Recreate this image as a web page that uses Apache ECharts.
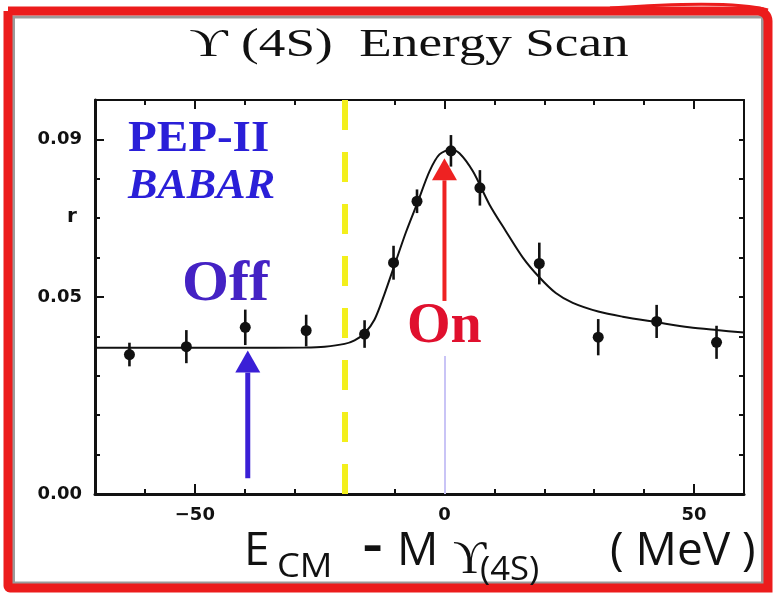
<!DOCTYPE html>
<html><head><meta charset="utf-8">
<script src="https://cdn.jsdelivr.net/npm/echarts@6/dist/echarts.min.js"></script>
<style>html,body{margin:0;padding:0;background:#fff}#c{width:775px;height:596px}</style>
</head><body><div id="c"></div>
<script>
// ---- data ----
const energy   = [-63.1, -51.7, -39.9, -27.7, -16.0, -10.2, -5.5, 1.3, 7.1, 19.0, 30.8, 42.5, 54.5];
const ratio    = [0.0354, 0.0374, 0.0423, 0.0415, 0.0406, 0.0587, 0.0743, 0.0871, 0.0777, 0.0585, 0.0398, 0.0438, 0.0385];
const ratioErr = [0.0030, 0.0042, 0.0045, 0.0040, 0.0035, 0.0043, 0.0030, 0.0040, 0.0045, 0.0053, 0.0046, 0.0042, 0.0042];
const fitEnergy = [-70, -40, -28, -24, -20, -18, -16, -14, -12, -10.3, -7.7, -5.3, -3, -1, 1.3, 3, 5.7, 9, 12.3, 15.7, 19, 22.3, 25.7, 30.8, 35.7, 42.5, 49, 54.5, 60];
const fitRatio  = [0.0371, 0.0371, 0.0372, 0.0374, 0.0381, 0.0390, 0.0408, 0.0443, 0.0508, 0.0570, 0.0665, 0.0743, 0.0819, 0.0862, 0.0874, 0.0865, 0.0819, 0.0735, 0.0667, 0.0600, 0.0550, 0.0510, 0.0485, 0.0463, 0.0450, 0.0436, 0.0423, 0.0416, 0.0410];
const xTickLabels = [-50, 0, 50];
const yTickLabels = [0, 0.05, 0.09];
const scanCut = -20;
// arrows: [energy, base r, tip r, style index]
const arrows = [[-39.4, 0.004, 0.0364, 0], [0, 0.049, 0.0852, 1]];
const onGuide = [0, 0, 0.035];

const arrowStyles = [{color: '#3a1fd6', w: 5}, {color: '#ee2222', w: 4}];
const ink = '#111';

const chart = echarts.init(document.getElementById('c'), null, {renderer: 'canvas'});
const labelFont = {color: ink, fontFamily: 'DejaVu Sans', fontWeight: 'bold', fontSize: 18};
const xBase = {type: 'value', min: -70, max: 60, splitLine: {show: false}};
const yBase = {type: 'value', min: 0, max: 0.1, splitLine: {show: false}};
const line = (w, show) => ({show: show !== false, onZero: false, lineStyle: {color: ink, width: w}});

const option = {
  animation: false,
  backgroundColor: '#fff',
  grid: {left: 95, right: 31, top: 100, bottom: 102, containLabel: false},
  xAxis: [
    Object.assign({}, xBase, {position: 'bottom', interval: 10,
      axisLine: line(3),
      axisTick: {inside: true, length: 5, lineStyle: {color: ink, width: 2}},
      axisLabel: {show: false}}),
    Object.assign({}, xBase, {position: 'bottom',
      axisLine: line(0, false),
      axisTick: {inside: true, length: 10, customValues: xTickLabels, lineStyle: {color: ink, width: 2}},
      axisLabel: Object.assign({customValues: xTickLabels, margin: 12,
        formatter: v => v < 0 ? '\u2212' + (-v) : String(v)}, labelFont)}),
    Object.assign({}, xBase, {position: 'top', interval: 10,
      axisLine: line(2),
      axisTick: {inside: true, length: 5, lineStyle: {color: ink, width: 2}},
      axisLabel: {show: false}}),
    Object.assign({}, xBase, {position: 'top',
      axisLine: line(0, false),
      axisTick: {inside: true, length: 9, customValues: xTickLabels, lineStyle: {color: ink, width: 2}},
      axisLabel: {show: false}})
  ],
  yAxis: [
    Object.assign({}, yBase, {position: 'left', interval: 0.01,
      axisLine: line(3),
      axisTick: {inside: true, length: 5, lineStyle: {color: ink, width: 2}},
      axisLabel: {show: false}}),
    Object.assign({}, yBase, {position: 'left',
      axisLine: line(0, false),
      axisTick: {inside: true, length: 9, customValues: yTickLabels, lineStyle: {color: ink, width: 2}},
      axisLabel: Object.assign({customValues: yTickLabels, margin: 13,
        formatter: v => Number(v).toFixed(2)}, labelFont)}),
    Object.assign({}, yBase, {position: 'right', interval: 0.01,
      axisLine: line(2),
      axisTick: {inside: true, length: 5, lineStyle: {color: ink, width: 2}},
      axisLabel: {show: false}})
  ],
  series: [
    {
      type: 'line', xAxisIndex: 0, yAxisIndex: 0, z: 3,
      data: fitEnergy.map((x, i) => [x, fitRatio[i]]),
      smooth: 0.3, showSymbol: false, symbol: 'none',
      lineStyle: {color: ink, width: 2},
      markLine: {
        silent: true, symbol: 'none', label: {show: false}, z: 2,
        data: [
          {xAxis: scanCut, lineStyle: {color: '#f3ef1c', width: 6, type: [30, 22]}},
          [{coord: [onGuide[0], onGuide[1]], lineStyle: {color: '#c9c4f6', width: 2, type: 'solid'}},
           {coord: [onGuide[0], onGuide[2]]}]
        ]
      }
    },
    {
      type: 'custom', xAxisIndex: 0, yAxisIndex: 0, z: 5,
      data: energy.map((x, i) => [x, ratio[i], ratioErr[i]]),
      encode: {x: 0, y: 1},
      renderItem: (params, api) => {
        const x = api.value(0), y = api.value(1), e = api.value(2);
        const p = api.coord([x, y]), lo = api.coord([x, y - e]), hi = api.coord([x, y + e]);
        return {type: 'group', children: [
          {type: 'line', shape: {x1: lo[0], y1: lo[1], x2: hi[0], y2: hi[1]}, style: {stroke: ink, lineWidth: 2.6}},
          {type: 'circle', shape: {cx: p[0], cy: p[1], r: 5.5}, style: {fill: ink}}
        ]};
      }
    },
    {
      type: 'custom', xAxisIndex: 0, yAxisIndex: 0, z: 4,
      data: arrows,
      encode: {x: 0, y: [1, 2]},
      renderItem: (params, api) => {
        const x = api.value(0), y0 = api.value(1), y1 = api.value(2), s = arrowStyles[api.value(3)];
        const b = api.coord([x, y0]), t = api.coord([x, y1]);
        const hl = 22, hw = 12.5;
        return {type: 'group', children: [
          {type: 'line', shape: {x1: b[0], y1: b[1], x2: t[0], y2: t[1] + hl}, style: {stroke: s.color, lineWidth: s.w}},
          {type: 'polygon', shape: {points: [[t[0], t[1]], [t[0] - hw, t[1] + hl], [t[0] + hw, t[1] + hl]]}, style: {fill: s.color}}
        ]};
      }
    }
  ],
  graphic: [
    // frame
    {type: 'rect', silent: true, z: -1, shape: {x: 13.5, y: 17, width: 749, height: 566}, style: {fill: null, stroke: '#9b9b9b', lineWidth: 3}},
    {type: 'rect', silent: true, shape: {x: 8, y: 11, width: 760, height: 577, r: [0, 10, 0, 2]}, style: {fill: null, stroke: '#ec1c1c', lineWidth: 9}},
    {type: 'bezierCurve', silent: true, shape: {x1: 610, y1: 8, cpx1: 680, cpy1: 3, cpx2: 740, cpy2: 2, x2: 768, y2: 10}, style: {stroke: '#ec1c1c', lineWidth: 3, fill: null}},
    // title
    {type: 'text', x: 409, y: 45, scaleX: 1.33, style: {text: '\u03D2 (4S)  Energy Scan', font: '40px "Liberation Serif"', fill: '#111', textAlign: 'center', textVerticalAlign: 'middle', align: 'center', verticalAlign: 'middle'}},
    // y name
    {type: 'text', x: 72, y: 217, style: {text: 'r', font: 'bold 20px "DejaVu Sans"', fill: '#111', textAlign: 'center', textVerticalAlign: 'middle', align: 'center', verticalAlign: 'middle'}},
    // annotations
    {type: 'text', x: 128, y: 140, scaleX: 1.07, style: {text: 'PEP-II', font: 'bold 44px "Liberation Serif"', fill: '#2a1fd8', textAlign: 'left', textVerticalAlign: 'middle', align: 'left', verticalAlign: 'middle'}},
    {type: 'text', x: 128, y: 187, scaleX: 1.05, style: {text: 'BABAR', font: 'italic bold 42px "Liberation Serif"', fill: '#2a1fd8', textAlign: 'left', textVerticalAlign: 'middle', align: 'left', verticalAlign: 'middle'}},
    {type: 'text', x: 182, y: 285, scaleX: 1.06, style: {text: 'Off', font: 'bold 57px "Liberation Serif"', fill: '#4422c4', textAlign: 'left', textVerticalAlign: 'middle', align: 'left', verticalAlign: 'middle'}},
    {type: 'text', x: 407, y: 328, style: {text: 'On', font: 'bold 56px "Liberation Serif"', fill: '#e0102e', textAlign: 'left', textVerticalAlign: 'middle', align: 'left', verticalAlign: 'middle'}},
    // x axis title
    {type: 'text', x: 244, y: 552, style: {text: 'E', font: '46px "Open Sans"', fill: '#111', textAlign: 'left', textVerticalAlign: 'middle', align: 'left', verticalAlign: 'middle'}},
    {type: 'text', x: 277, y: 568, scaleX: 1.1, style: {text: 'CM', font: '33px "Open Sans"', fill: '#111', textAlign: 'left', textVerticalAlign: 'middle', align: 'left', verticalAlign: 'middle'}},
    {type: 'text', x: 363, y: 548, scaleX: 1.3, style: {text: '-', font: 'bold 46px "Open Sans"', fill: '#111', textAlign: 'left', textVerticalAlign: 'middle', align: 'left', verticalAlign: 'middle'}},
    {type: 'text', x: 397, y: 552, style: {text: 'M', font: '46px "Open Sans"', fill: '#111', textAlign: 'left', textVerticalAlign: 'middle', align: 'left', verticalAlign: 'middle'}},
    {type: 'text', x: 453, y: 561, style: {text: '\u03D2', font: '46px "Liberation Serif"', fill: '#111', textAlign: 'left', textVerticalAlign: 'middle', align: 'left', verticalAlign: 'middle'}},
    {type: 'text', x: 480, y: 571, scaleX: 1.05, style: {text: '(4S)', font: '33px "Open Sans"', fill: '#111', textAlign: 'left', textVerticalAlign: 'middle', align: 'left', verticalAlign: 'middle'}},
    {type: 'text', x: 610, y: 552, style: {text: '( MeV )', font: '46px "Open Sans"', fill: '#111', textAlign: 'left', textVerticalAlign: 'middle', align: 'left', verticalAlign: 'middle'}}
  ]
};
chart.setOption(option);
</script>
</body></html>
